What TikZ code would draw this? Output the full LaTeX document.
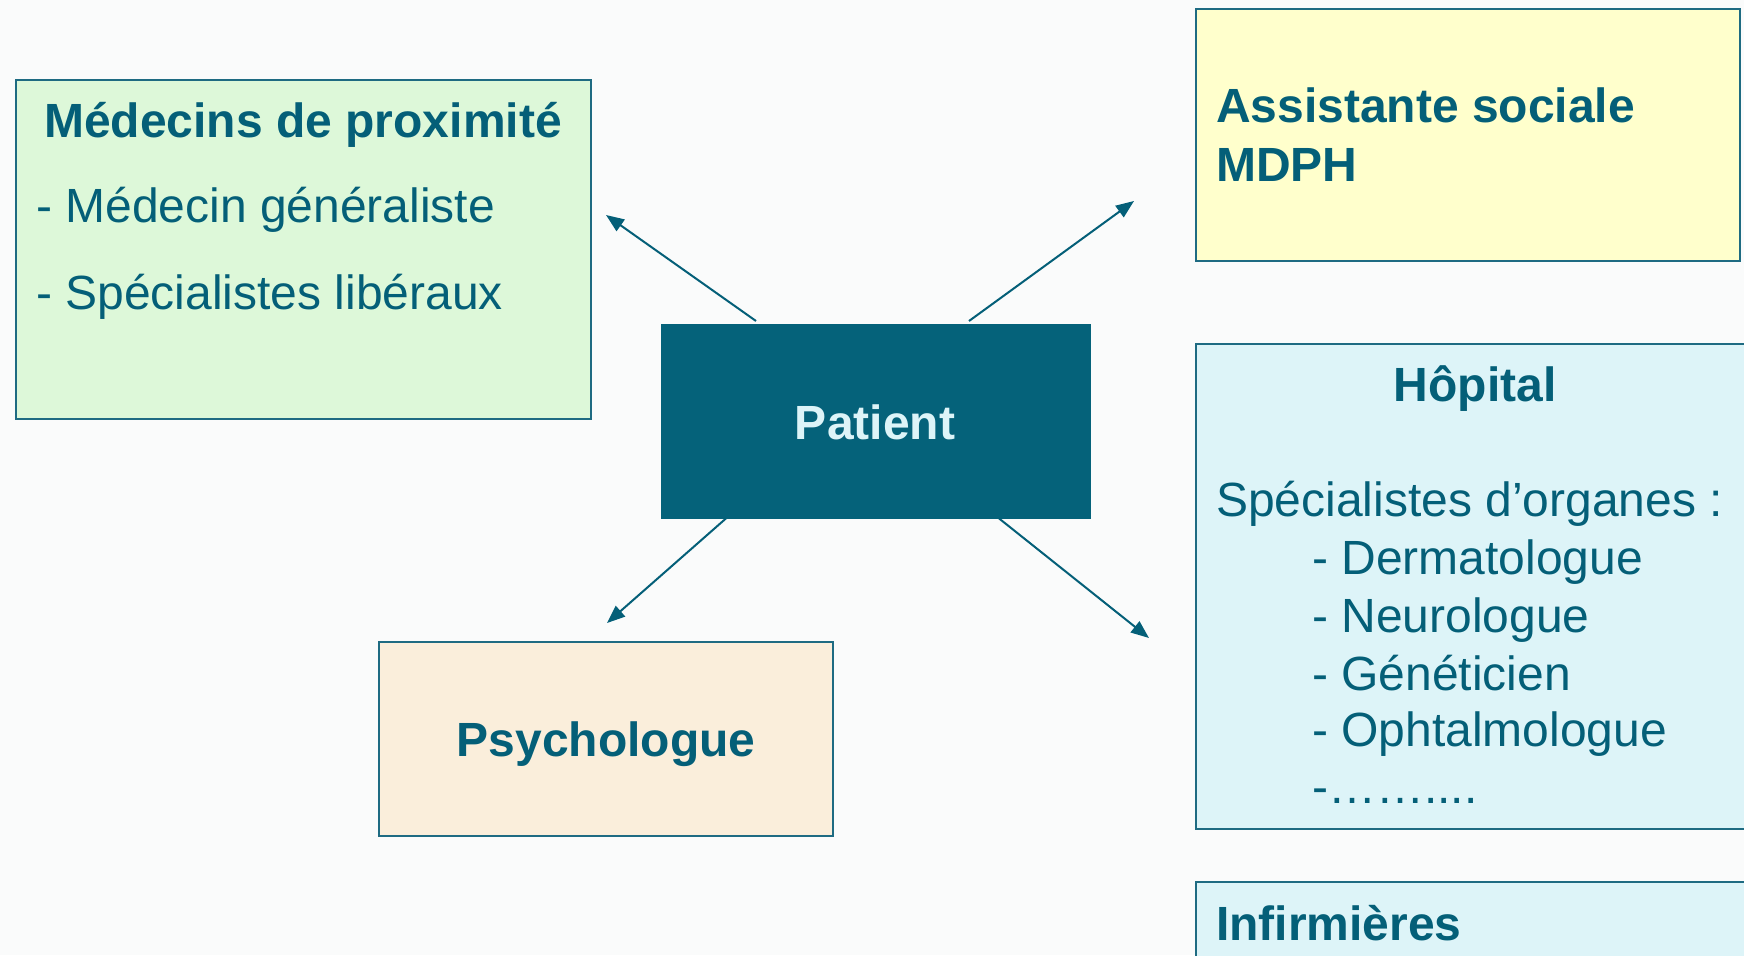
\documentclass[tikz,border=0pt]{standalone}
\usepackage{fontspec}
\setmainfont{Liberation Sans}
\usetikzlibrary{arrows.meta,calc}
\definecolor{tealtxt}{HTML}{045F78}
\definecolor{boxline}{HTML}{1E6B82}
\definecolor{patfill}{HTML}{05627A}
\definecolor{pattxt}{HTML}{DDF4F8}
\definecolor{greenf}{HTML}{DDF8D9}
\definecolor{yellowf}{HTML}{FFFFCC}
\definecolor{bluef}{HTML}{DDF4F8}
\definecolor{beigef}{HTML}{FAEEDB}
\definecolor{bgc}{HTML}{FAFBFB}
\begin{document}
\begin{tikzpicture}[x=1pt,y=-1pt,
  box/.style={draw=boxline,line width=1.8pt},
  txt/.style={inner sep=0pt,text=tealtxt,font=\fontsize{48}{57}\selectfont},
  btxt/.style={txt,font=\fontsize{48}{57}\selectfont\bfseries},
  link/.style={draw=tealtxt,line width=2pt,-{Triangle[length=18pt,width=14pt]}}]
\useasboundingbox (0,0) rectangle (1744,955);
\fill[bgc] (0,0) rectangle (1744,955);
\begin{scope}
\clip (0,0) rectangle (1744,955);
% boxes
\draw[box,fill=greenf] (16,80) rectangle (591,419);
\draw[box,fill=yellowf] (1196,9) rectangle (1740,261);
\draw[box,fill=bluef] (1196,344) rectangle (1770,829);
\draw[box,fill=bluef] (1196,882) rectangle (1770,990);
\draw[box,fill=beigef] (379,642) rectangle (833,836);
\node[fill=patfill,draw=patfill,minimum width=429pt,minimum height=194pt,inner sep=0pt,anchor=north west] (pat) at (661,324) {};
\end{scope}
% texts
\node[btxt,anchor=base] (medt) at (303,137) {Médecins de proximité};
\node[txt,anchor=base west] (med1) at (36,222) {- Médecin généraliste};
\node[txt,anchor=base west] (med2) at (36,309) {- Spécialistes libéraux};
\node[btxt,anchor=base,text=pattxt] (patt) at (875,439) {Patient};
\node[btxt,anchor=base west] (as1) at (1216,123) {Assistante sociale};
\node[btxt,anchor=base west] (as2) at (1216,181) {MDPH};
\node[btxt,anchor=base] (hop) at (1475,401) {Hôpital};
\node[txt,anchor=base west] (h0) at (1216,516) {Spécialistes d’organes :};
\node[txt,anchor=base west] (h1) at (1312,574) {- Dermatologue};
\node[txt,anchor=base west] (h2) at (1312,632) {- Neurologue};
\node[txt,anchor=base west] (h3) at (1312,690) {- Généticien};
\node[txt,anchor=base west] (h4) at (1312,746) {- Ophtalmologue};
\node[txt,anchor=base west] (h5) at (1312,803) {-……....};
\node[btxt,anchor=base west] (inf) at (1216,940) {Infirmières};
\node[btxt,anchor=base] (psy) at (606,756) {Psychologue};
% arrow ends
\coordinate (s1) at ($(pat.north west)+(95,-3)$);
\coordinate (s2) at ($(pat.north west)+(308,-3)$);
\coordinate (s3) at ($(pat.south west)+(65,0)$);
\coordinate (s4) at ($(pat.south west)+(338,0)$);
\coordinate (e1) at (606,215);
\coordinate (e2) at (1134,201);
\coordinate (e3) at (607,623);
\coordinate (e4) at (1149,638);
\draw[link] (s1) -- (e1);
\draw[link] (s2) -- (e2);
\draw[link] (s3) -- (e3);
\draw[link] (s4) -- (e4);
\end{tikzpicture}
\end{document}
